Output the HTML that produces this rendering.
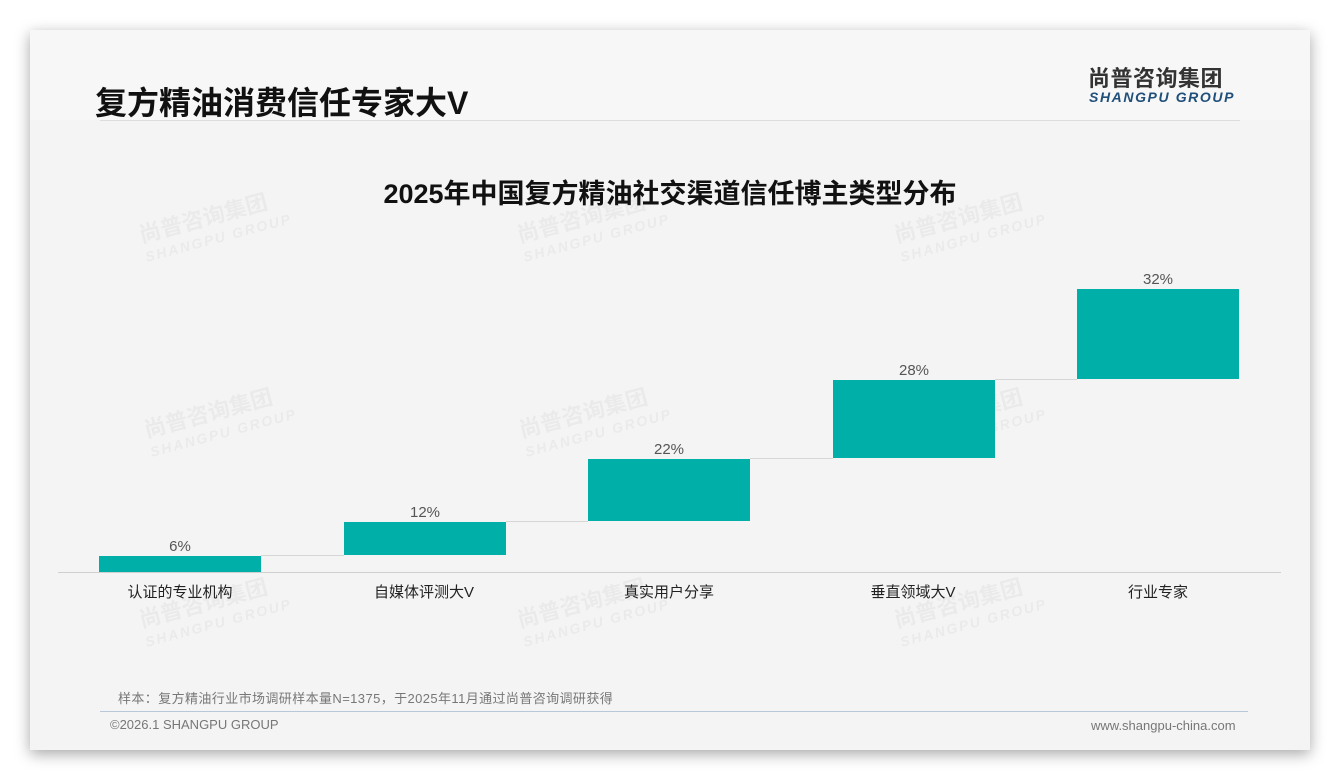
<!DOCTYPE html>
<html><head><meta charset="utf-8"><style>
body{margin:0;width:1340px;height:780px;background:#fff;position:relative;overflow:hidden;font-family:"Liberation Sans","Noto Sans CJK SC",sans-serif}
.card{position:absolute;left:30px;top:30px;width:1280px;height:720px;background:#f4f4f4;box-shadow:0 4px 14px rgba(0,0,0,.35)}
.hdr{position:absolute;left:30px;top:30px;width:1280px;height:90px;background:#f7f7f7}
.abs{position:absolute;white-space:nowrap}
.bar{position:absolute;background:#00b0a8;width:162px}
.val{position:absolute;width:162px;text-align:center;font-size:15px;color:#555}
.lab{position:absolute;width:200px;text-align:center;font-size:15px;color:#222}
.con{position:absolute;height:1px;background:#d6d6d6}
.wm{position:absolute;color:rgba(0,0,0,.04);font-weight:bold;transform:rotate(-15deg);font-size:22px;line-height:22px}
.wm span{display:block;font-size:14px;letter-spacing:2px;font-style:italic}
</style></head><body>
<div class="card"></div><div class="hdr"></div>
<div class="abs" style="left:95px;top:78px;font-size:32px;font-weight:bold;color:#111">复方精油消费信任专家大V</div>
<div class="abs" style="left:1088px;top:61px;font-size:22px;font-weight:bold;color:#333;letter-spacing:0.5px">尚普咨询集团</div>
<div class="abs" style="left:1089px;top:89px;font-size:14px;font-weight:bold;font-style:italic;color:#1f4f7a;letter-spacing:1.6px">SHANGPU GROUP</div>
<div class="abs" style="left:100px;top:120px;width:1140px;height:1px;background:#ddd"></div>
<div class="abs" style="left:0;width:1340px;top:172px;text-align:center;font-size:27px;font-weight:bold;color:#111">2025年中国复方精油社交渠道信任博主类型分布</div>
<div class="wm" style="left:140px;top:205px">尚普咨询集团<span>SHANGPU GROUP</span></div>
<div class="wm" style="left:518px;top:205px">尚普咨询集团<span>SHANGPU GROUP</span></div>
<div class="wm" style="left:895px;top:205px">尚普咨询集团<span>SHANGPU GROUP</span></div>
<div class="wm" style="left:145px;top:400px">尚普咨询集团<span>SHANGPU GROUP</span></div>
<div class="wm" style="left:520px;top:400px">尚普咨询集团<span>SHANGPU GROUP</span></div>
<div class="wm" style="left:895px;top:400px">尚普咨询集团<span>SHANGPU GROUP</span></div>
<div class="wm" style="left:140px;top:590px">尚普咨询集团<span>SHANGPU GROUP</span></div>
<div class="wm" style="left:518px;top:590px">尚普咨询集团<span>SHANGPU GROUP</span></div>
<div class="wm" style="left:895px;top:590px">尚普咨询集团<span>SHANGPU GROUP</span></div>
<div class="con" style="left:261px;width:83px;top:555px"></div>
<div class="con" style="left:506px;width:82px;top:521px"></div>
<div class="con" style="left:750px;width:83px;top:458px"></div>
<div class="con" style="left:995px;width:82px;top:379px"></div>
<div class="abs" style="left:58px;top:572px;width:1223px;height:1px;background:#d0d0d0"></div>
<div class="bar" style="left:99px;top:556px;height:16px"></div>
<div class="bar" style="left:344px;top:522px;height:33px"></div>
<div class="bar" style="left:588px;top:459px;height:62px"></div>
<div class="bar" style="left:833px;top:380px;height:78px"></div>
<div class="bar" style="left:1077px;top:289px;height:90px"></div>
<div class="val" style="left:99px;top:538px">6%</div>
<div class="val" style="left:344px;top:504px">12%</div>
<div class="val" style="left:588px;top:441px">22%</div>
<div class="val" style="left:833px;top:362px">28%</div>
<div class="val" style="left:1077px;top:271px">32%</div>
<div class="lab" style="left:80px;top:581px">认证的专业机构</div>
<div class="lab" style="left:324px;top:581px">自媒体评测大V</div>
<div class="lab" style="left:569px;top:581px">真实用户分享</div>
<div class="lab" style="left:813px;top:581px">垂直领域大V</div>
<div class="lab" style="left:1058px;top:581px">行业专家</div>
<div class="abs" style="left:118px;top:688px;font-size:13px;color:#777;letter-spacing:0.4px">样本：复方精油行业市场调研样本量N=1375，于2025年11月通过尚普咨询调研获得</div>
<div class="abs" style="left:100px;top:711px;width:1148px;height:1px;background:#b8c8d8"></div>
<div class="abs" style="left:110px;top:717px;font-size:13px;color:#777">©2026.1 SHANGPU GROUP</div>
<div class="abs" style="left:1091px;top:718px;font-size:13px;color:#777">www.shangpu-china.com</div>
</body></html>
